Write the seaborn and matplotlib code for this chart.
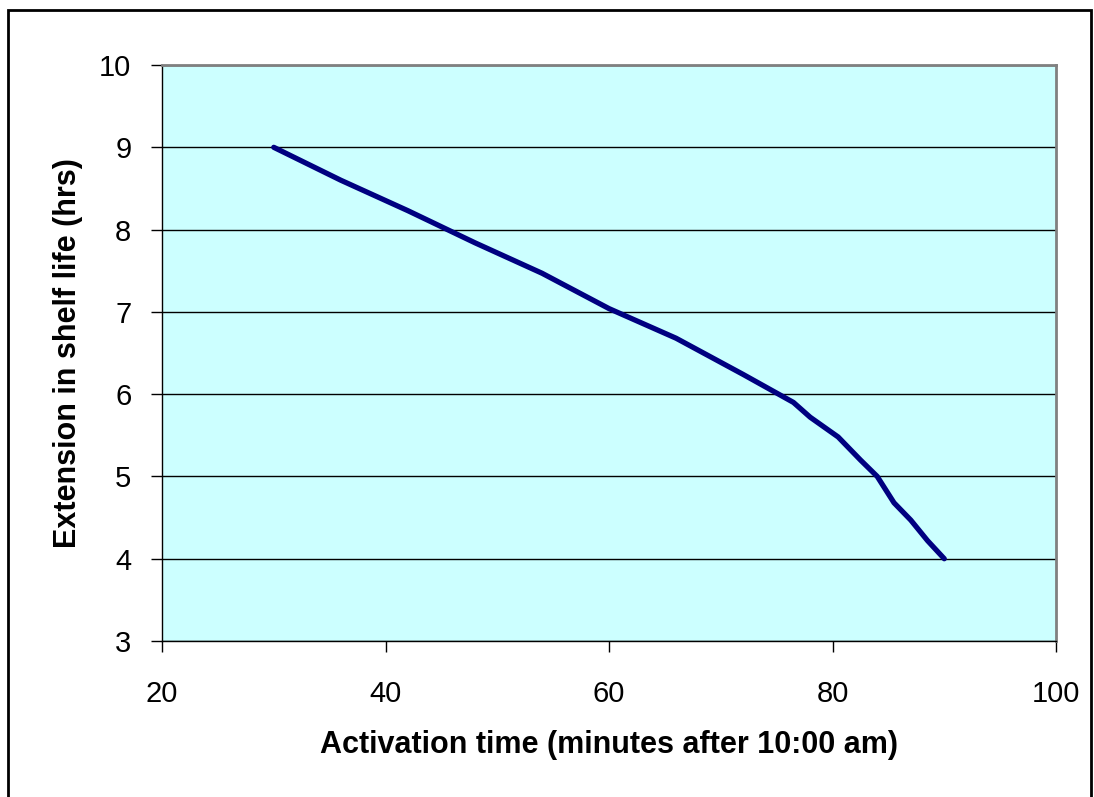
import matplotlib
matplotlib.use("Agg")
import matplotlib.pyplot as plt
import seaborn as sns
import pandas as pd
from matplotlib.patches import Rectangle

activation_min = [30, 36, 42, 48, 54, 60, 66, 72, 76.5, 78, 80.5, 82.5, 84, 85.5, 87, 88.5, 90]
extension_hrs = [9.0, 8.6, 8.23, 7.84, 7.47, 7.04, 6.68, 6.24, 5.9, 5.72, 5.48, 5.2, 5.0, 4.68, 4.47, 4.22, 4.0]
x_ticks = [20, 40, 60, 80, 100]
y_ticks = [3, 4, 5, 6, 7, 8, 9, 10]

sns.set_style("white")
plt.rcParams['font.family'] = ['Liberation Sans', 'DejaVu Sans']
plt.rcParams['text.color'] = 'black'
plt.rcParams['axes.labelcolor'] = 'black'
plt.rcParams['xtick.color'] = 'black'
plt.rcParams['ytick.color'] = 'black'

df = pd.DataFrame({"x": activation_min, "y": extension_hrs})

fig = plt.figure(figsize=(10.94, 7.97), dpi=100)
ax = fig.add_axes([0.1481, 0.1957, 0.9653 - 0.1481, 0.9184 - 0.1957])
ax.set_facecolor("#CCFFFF")

sns.lineplot(data=df, x="x", y="y", ax=ax, color="#000080", linewidth=3.8,
             sort=False, solid_capstyle="round", zorder=3)

ax.set_xlim(20, 100)
ax.set_ylim(3, 10)
ax.set_xticks(x_ticks)
ax.set_yticks(y_ticks)
ax.set_xticklabels([str(v) for v in x_ticks], fontsize=21, color="black")
ax.set_yticklabels([str(v) for v in y_ticks], fontsize=21, color="black")
ax.yaxis.grid(True, color="black", linewidth=1.0)
ax.xaxis.grid(False)
ax.set_axisbelow(True)

ax.tick_params(axis="both", direction="out", length=8, width=1, color="black", left=True, bottom=True)
ax.tick_params(axis="y", pad=14)
ax.tick_params(axis="x", pad=20)

for side in ["left", "bottom"]:
    ax.spines[side].set_color("black")
    ax.spines[side].set_linewidth(1.0)
for side in ["top", "right"]:
    ax.spines[side].set_color("#808080")
    ax.spines[side].set_linewidth(2.0)

ax.set_xlabel("Activation time (minutes after 10:00 am)", fontsize=22, fontweight="bold",
              labelpad=16, color="black")
ax.set_ylabel("Extension in shelf life (hrs)", fontsize=22, fontweight="bold",
              labelpad=12, color="black")

fig.add_artist(Rectangle((8 / 1094, -0.05), (1091 - 8) / 1094, 1 - 10 / 797 + 0.05,
                         transform=fig.transFigure, fill=False, edgecolor="black", linewidth=2))

fig.savefig("out.png", dpi=100)
